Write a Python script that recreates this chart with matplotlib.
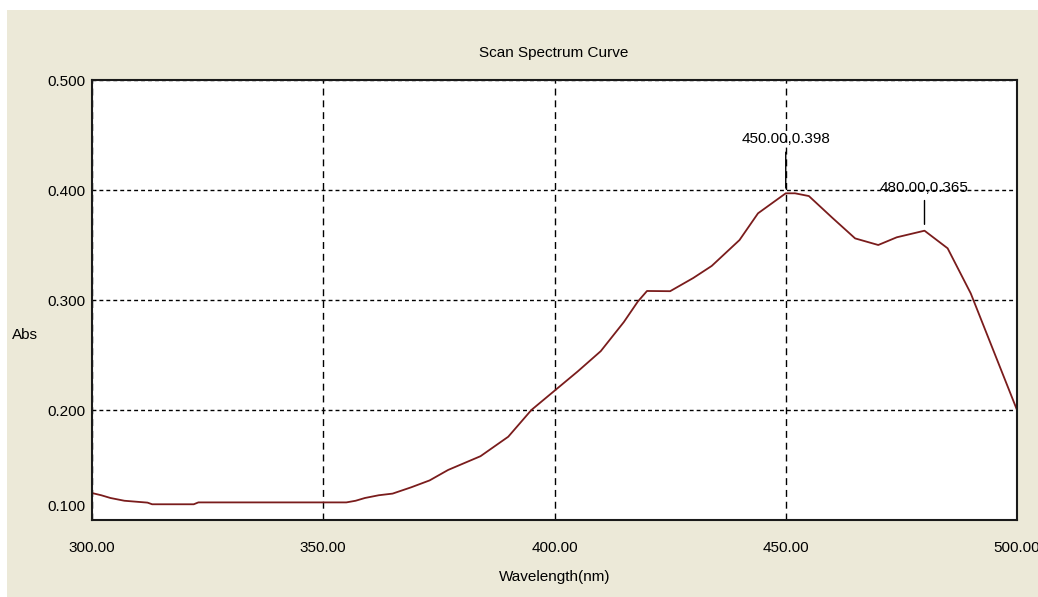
import matplotlib
matplotlib.use('Agg')
import matplotlib.pyplot as plt
from matplotlib.patches import Rectangle

plt.rcParams['font.family'] = ['Liberation Sans', 'DejaVu Sans']

# ---- data ----
wavelength = [300, 302, 304, 307, 312, 313, 322, 323, 355, 357, 359, 362, 365,
              369, 373, 377, 384, 390, 395, 400, 405, 410, 415, 418, 420, 425,
              430, 434, 440, 444, 450, 452, 455, 460, 465, 470, 474, 480, 485,
              490, 500]
absorb = [0.1245, 0.1225, 0.120, 0.1175, 0.1158, 0.1143, 0.1143, 0.116, 0.116,
          0.1175, 0.120, 0.1225, 0.124, 0.1297, 0.136, 0.1455, 0.158, 0.1757,
          0.200, 0.2175, 0.235, 0.2535, 0.280, 0.2985, 0.3082, 0.308, 0.320,
          0.331, 0.3545, 0.3788, 0.397, 0.397, 0.3945, 0.375, 0.356, 0.350,
          0.357, 0.363, 0.347, 0.306, 0.200]

peaks_x = [450, 480]
peaks_y = [0.398, 0.365]
peak_lines = [37, 25]   # leader length in px

x_ticks = [300, 350, 400, 450, 500]
y_ticks = [0.1, 0.2, 0.3, 0.4, 0.5]

fs = 11
bg = '#ECE9D8'
fig = plt.figure(figsize=(10.38, 5.97), dpi=100, facecolor=bg)
# white strips at the top and left of the screenshot
fig.patches.append(Rectangle((0, 1 - 10 / 597), 1, 10 / 597, transform=fig.transFigure,
                             facecolor='white', edgecolor='none', zorder=0))
fig.patches.append(Rectangle((0, 0), 7 / 1038, 1, transform=fig.transFigure,
                             facecolor='white', edgecolor='none', zorder=0))

ax = fig.add_axes([92 / 1038, 1 - 520 / 597, (1017 - 92) / 1038, (520 - 80) / 597])
ax.set_facecolor('white')

ax.plot(wavelength, absorb, color='#7a1c1c', lw=1.3)

ax.set_xlim(300, 500)
ax.set_ylim(0.1, 0.5)
ax.set_xticks(x_ticks)
ax.set_xticklabels(['%.2f' % v for v in x_ticks])
ax.set_yticks(y_ticks)
ax.set_yticklabels([''] + ['%.3f' % v for v in y_ticks[1:]])
ax.tick_params(axis='both', length=0, labelsize=fs, colors='black')
ax.tick_params(axis='x', pad=15)
ax.tick_params(axis='y', pad=5)
# bottom tick label sits a little above the axis
ax.annotate('%.3f' % y_ticks[0], xy=(0, y_ticks[0]), xycoords=('axes fraction', 'data'),
            xytext=(-6, 13), textcoords='offset pixels', ha='right', va='center',
            fontsize=fs)

ax.grid(axis='x', color='black', lw=1, ls=(0, (5, 3.5)))
ax.grid(axis='y', color='black', lw=1, ls=(0, (2.8, 2.2)))

for s in ax.spines.values():
    s.set_color('#1a1a1a')
    s.set_linewidth(1.5)

# peak markers
for px, py, L in zip(peaks_x, peaks_y, peak_lines):
    ax.annotate('', xy=(px, py), xytext=(0, L + 3), textcoords='offset pixels',
                arrowprops=dict(arrowstyle='-', color='black', lw=1, shrinkA=0, shrinkB=3))
    ax.annotate('%.2f,%.3f' % (px, py), xy=(px, py), xytext=(0, L + 9),
                textcoords='offset pixels', ha='center', va='bottom', fontsize=fs)

fig.text(554 / 1038, 1 - 53 / 597, 'Scan Spectrum Curve', ha='center', va='center', fontsize=fs)
fig.text(555 / 1038, 1 - 577 / 597, 'Wavelength(nm)', ha='center', va='center', fontsize=fs)
fig.text(25 / 1038, 1 - 335 / 597, 'Abs', ha='center', va='center', fontsize=fs)

fig.savefig('out.png', dpi=100, facecolor=bg)
